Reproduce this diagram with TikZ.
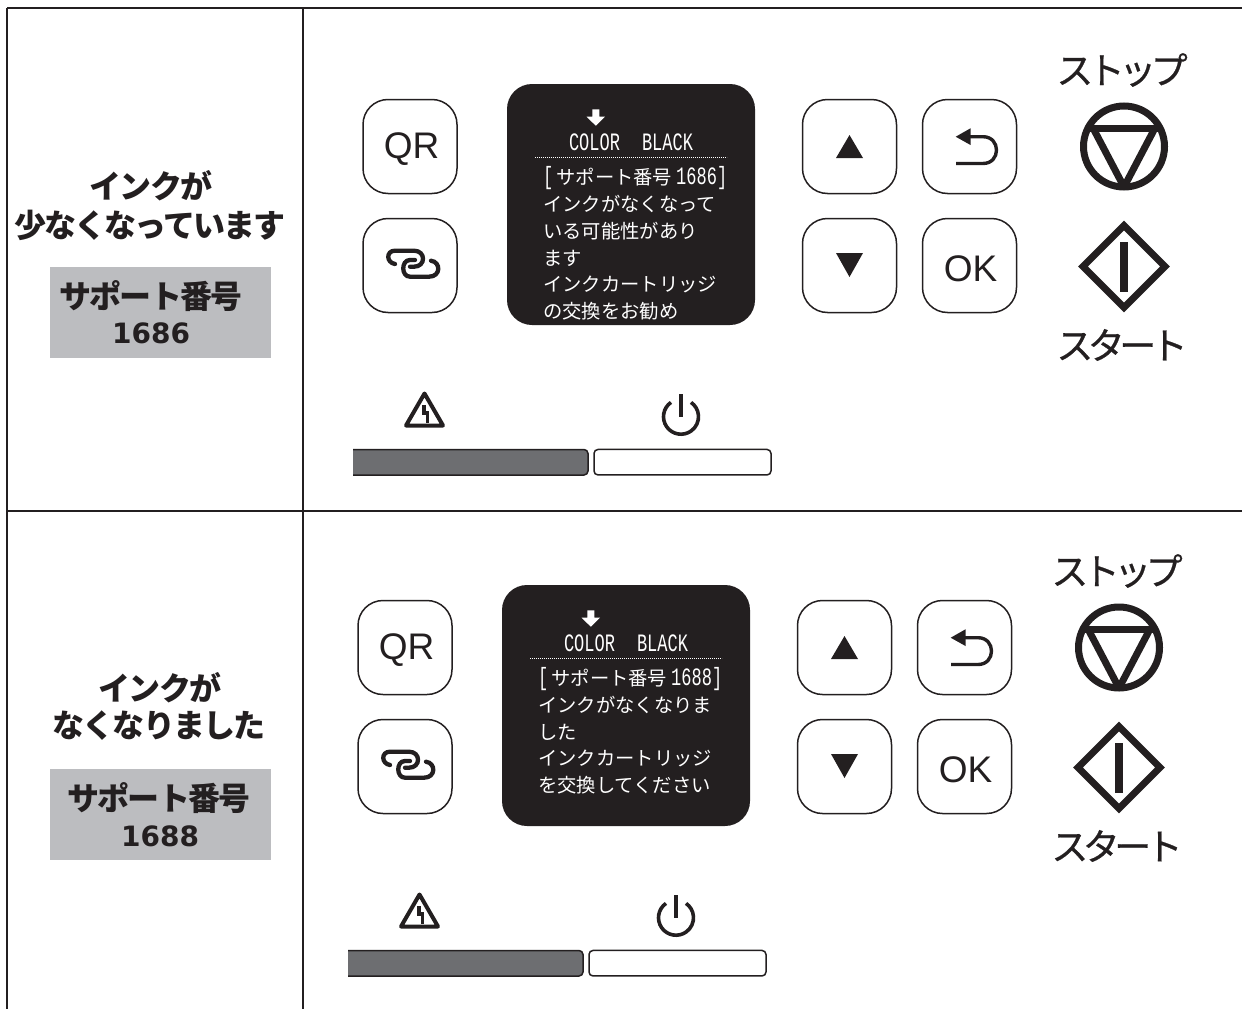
\documentclass[tikz,border=0pt]{standalone}
\usepackage{fontspec}
\newfontfamily\jp{Noto Sans CJK JP}
\newfontfamily\titlef[LetterSpace=-6]{Noto Sans CJK JP}
\newfontfamily\kataf[LetterSpace=-15,FakeBold=0.6]{Noto Sans CJK JP}
\newfontfamily\numf{DejaVu Sans}
\newfontfamily\arial{Liberation Sans}
\newfontfamily\scrm[FakeStretch=.68]{Liberation Mono}
\definecolor{ink}{HTML}{231F20}
\definecolor{boxgray}{HTML}{BCBDC0}
\definecolor{bargray}{HTML}{6D6E71}
\newcommand{\fs}[1]{\fontsize{#1}{#1}\selectfont}
\newcommand{\scrjp}{\jp\fs{19.3}}
\newcommand{\scrnum}{\scrm\fs{25}}
\tikzset{
  x=1pt,y=-1pt,
  btn/.style={draw=ink,line width=1.5pt,rounded corners=25pt,minimum width=94pt,minimum height=94pt,inner sep=0pt},
  btnlabel/.style={text=ink,inner sep=0pt,font=\arial\fs{37}},
  screen/.style={fill=ink,draw=none,rounded corners=25pt,minimum width=248pt,minimum height=241pt,inner sep=0pt},
  scrtext/.style={text=white,anchor=west,inner sep=0pt,font=\scrjp},
  title/.style={text=ink,inner sep=0pt,font=\titlef\bfseries\fs{32}},
  support/.style={fill=boxgray,minimum width=221pt,minimum height=91pt,inner sep=0pt},
  number/.style={text=ink,inner sep=0pt,font=\numf\bfseries\fs{28}},
  kata/.style={text=ink,inner sep=0pt,font=\kataf\fs{37}},
  grid/.style={draw=ink,line width=2.2pt},
  solidglyph/.style={fill=ink,draw=none},
}
\newcommand{\panel}[4]{%
\begin{scope}[shift={(#1,#2)},name prefix=#3-]
  \node[btn] (qr) at (410,146.5) {};
  \node[btnlabel] (qrtext) at (411.5,149.5) {QR};
  \node[btn] (link) at (410,265.5) {};
  \node[screen] (scr) at (631,204.5) {};
  \node[btn] (up) at (849.5,146.5) {};
  \node[btn] (back) at (969.5,146.5) {};
  \node[btn] (down) at (849.5,265.5) {};
  \node[btn] (ok) at (969.5,265.5) {};
  \node[btnlabel] (oktext) at (970.5,268.5) {OK};
  % link glyph
  \begin{scope}[draw=ink,line width=4.3pt,line cap=round]
    \draw (395,264) .. controls (386,262.5) and (386,250.7) .. (395,250.7) -- (414,250.7)
      .. controls (426,250.7) and (426,266.7) .. (414,266.7) -- (410,266.7);
    \draw (415,260) -- (410,260) .. controls (401,260) and (401,276.7) .. (410,276.7) -- (429,276.7)
      .. controls (441,276.7) and (441,262) .. (431,260.7);
  \end{scope}
  % screen contents
  \fill[white] (592.3,109.3) -- (599.3,109.3) -- (599.3,116.7) -- (605,116.7) -- (595.8,125.7) -- (586.5,116.7) -- (592.3,116.7) -- cycle;
  \node[text=white,inner sep=0pt,font=\scrnum] (colour) at (594.5,142) {COLOR};
  \node[text=white,inner sep=0pt,font=\scrnum] (black) at (667.5,142) {BLACK};
  \draw[white,line width=1.6pt,dash pattern=on .9pt off 1.1pt] (535,157.5) -- (727,157.5);
  % arrows
  \fill[solidglyph] (836,158) -- (849.5,135) -- (863,158) -- cycle;
  \fill[solidglyph] (836,253) -- (849.5,277) -- (863,253) -- cycle;
  \fill[solidglyph] (955.7,136.7) -- (970.5,128.3) -- (970.5,145) -- cycle;
  \draw[ink,line width=3.4pt] (968,136.7) -- (983,136.7) .. controls (1001,136.7) and (1001,163.5) .. (983,163.5) -- (956,163.5);
  % stop and start
  \node[kata] (stoplabel) at (1122,70) {ストップ};
  \draw[ink,line width=7pt] (1124,146.5) circle[radius=40.5pt];
  \begin{scope}
    \clip (1124,146.5) circle[radius=41pt];
    \draw[ink,line width=7pt,line join=miter] (1080,128) -- (1168,128);
    \draw[ink,line width=7pt] (1093,128) -- (1124,187) -- (1155,128);
  \end{scope}
  \draw[ink,line width=7pt,line join=miter] (1124,225.5) -- (1165,266.5) -- (1124,307.5) -- (1083,266.5) -- cycle;
  \fill[solidglyph] (1120.3,242) rectangle (1127.7,292);
  \node[kata] (startlabel) at (1122,345) {スタート};
  % warning and power
  \draw[ink,line width=4pt,line join=round] (424.5,393.5) -- (443,425.5) -- (406,425.5) -- cycle;
  \draw[ink,line width=3.6pt] (424,405) -- (424,413) -- (427.5,413) -- (427.5,423);
  \coordinate (pw) at (681,416.7);
  \draw[ink,line width=3.6pt] ([shift={(125:17.5pt)}]pw) arc[start angle=125,end angle=415,radius=17.5pt];
  \draw[ink,line width=3.8pt] (681,394) -- (681,416.5);
  % lamps
  \fill[bargray] (353,449.5) [rounded corners=4pt] -- (588,449.5) -- (588,475) [sharp corners] -- (353,475) -- cycle;
  \draw[ink,line width=1.5pt,rounded corners=4pt] (353,449.5) -- (588,449.5) -- (588,475) -- (353,475);
  \node[draw=ink,fill=white,line width=1.5pt,rounded corners=4pt,minimum width=177pt,minimum height=25.5pt,inner sep=0pt] (lamp) at (682.5,462.2) {};
  #4
\end{scope}}
\begin{document}
\begin{tikzpicture}
\useasboundingbox (0,0) rectangle (1242,1009);
% table rules
\coordinate (tl) at (7,8);
\coordinate (tr) at (1242,8);
\coordinate (bl) at (7,1009);
\coordinate (tm) at (303,8);
\coordinate (bm) at (303,1009);
\coordinate (ml) at (7,511);
\coordinate (mr) at (1242,511);
\draw[grid] (tl) -- (tr);
\draw[grid] (tl) -- (bl);
\draw[grid] (tm) -- (bm);
\draw[grid] (ml) -- (mr);
% left column, first row
\node[title] (t1a) at (151,186) {インクが};
\node[title] (t1b) at (150,225) {少なくなっています};
\node[support] (s1) at (160.5,312.5) {};
\node[title] (s1a) at (151,296) {サポート番号};
\node[number] (s1b) at (151,333) {1686};
% left column, second row
\node[title] (t2a) at (160,688) {インクが};
\node[title] (t2b) at (159,726) {なくなりました};
\node[support] (s2) at (160.5,814.5) {};
\node[title] (s2a) at (159,798) {サポート番号};
\node[number] (s2b) at (160,836) {1688};
% panels
\panel{0}{0}{a}{%
  \node[scrtext] (l1) at (543,178) {{\scrnum[}\hspace{3pt}サポート番号\hspace{4pt}{\scrnum 1686]}};
  \node[scrtext] (l2) at (543,204) {インクがなくなって};
  \node[scrtext] (l3) at (543,231) {いる可能性があり};
  \node[scrtext] (l4) at (543,258) {ます};
  \node[scrtext] (l5) at (543,284) {インクカートリッジ};
  \node[scrtext] (l6) at (543,311) {の交換をお勧め};
}
\panel{-5}{501}{b}{%
  \node[scrtext] (l1) at (543,178) {{\scrnum[}\hspace{3pt}サポート番号\hspace{4pt}{\scrnum 1688]}};
  \node[scrtext] (l2) at (543,204) {インクがなくなりま};
  \node[scrtext] (l3) at (543,231) {した};
  \node[scrtext] (l4) at (543,257) {インクカートリッジ};
  \node[scrtext] (l5) at (543,284) {を交換してください};
}
\end{tikzpicture}
\end{document}
